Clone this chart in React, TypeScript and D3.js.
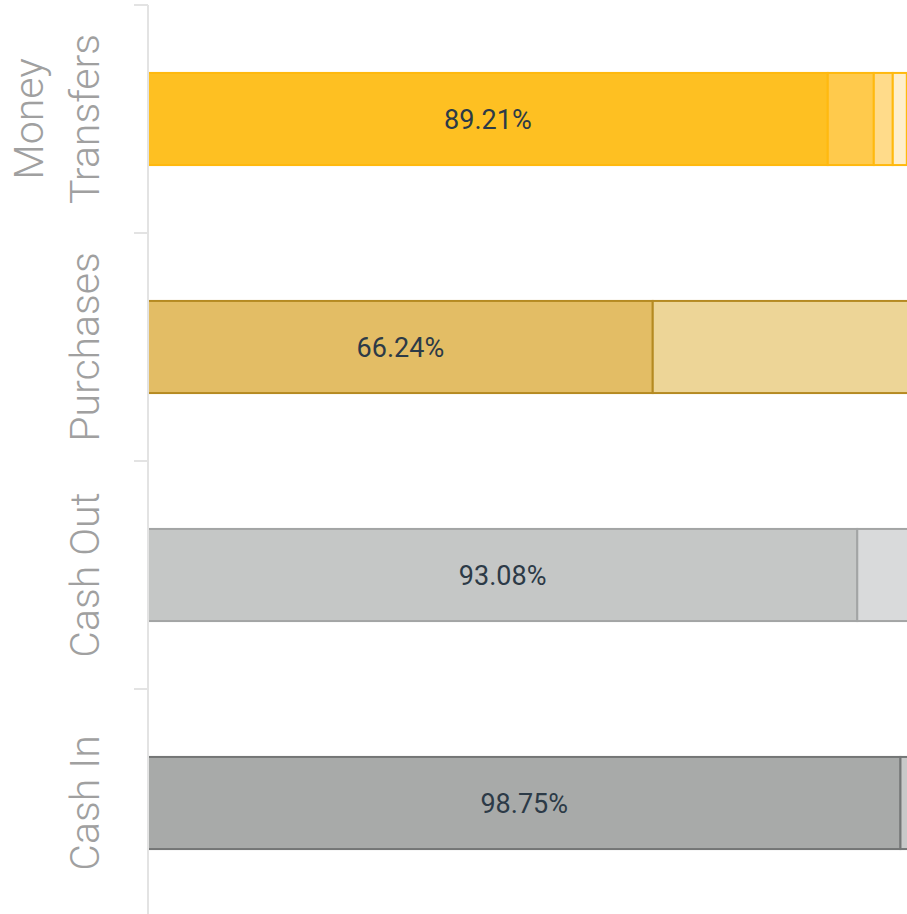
import * as d3 from "d3";

const categories = ["Money Transfers", "Purchases", "Cash Out", "Cash In"];
const categoryLines = [["Money", "Transfers"], ["Purchases"], ["Cash Out"], ["Cash In"]];

// share of each status, in %, left to right
const moneyTransfers = [89.21, 6.04, 2.49, 1.84];
const purchases = [66.24, 33.76];
const cashOut = [93.08, 6.92];
const cashIn = [98.75, 1.25];
const seriesValues = [moneyTransfers, purchases, cashOut, cashIn];

const segmentFills = [
  ["#fec022", "#ffca4c", "#ffdb8a", "#ffefcc"],
  ["#e3bd65", "#edd597"],
  ["#c5c7c6", "#d9dadb"],
  ["#a8aaa9", "#c8c9c9"],
];
const segmentStrokes = ["#ffb90f", "#b58a22", "#a3a5a5", "#747676"];

const width = 907;
const height = 914;
const axisX = 148;

export default function App() {
  const x = d3.scaleLinear().domain([0, 100]).range([axisX, 910]);
  const y = d3.scaleBand<string>().domain(categories).range([5, 917]);
  const bw = y.bandwidth();
  const barH = bw * 0.404;

  return (
    <svg
      width={width}
      height={height}
      style={{ position: "absolute", left: 0, top: 0, display: "block", background: "#fff" }}
    >
      {/* category labels */}
      {categories.map((c, i) => {
        const cy = y(c)! + bw / 2;
        const lines = categoryLines[i];
        return lines.map((ln, j) => (
          <text
            key={c + j}
            transform={`translate(${99 - (lines.length - 1 - j) * 56},${cy}) rotate(-90)`}
            textAnchor="middle"
            fontFamily="Roboto, 'Open Sans', sans-serif"
            fontWeight={300}
            fontSize={41}
            fill="#a0a0a0"
          >
            {ln}
          </text>
        ));
      })}
      {/* bars */}
      {categories.map((c, i) => {
        const vals = seriesValues[i];
        const stacked = d3.cumsum(vals);
        const top = y(c)! + (bw - barH) / 2;
        return (
          <g key={"b" + c}>
            {vals.map((v, k) => {
              const x0 = x(stacked[k] - v);
              const x1 = x(stacked[k]);
              return (
                <rect
                  key={k}
                  x={x0}
                  y={top}
                  width={x1 - x0}
                  height={barH}
                  fill={segmentFills[i][k]}
                  stroke={segmentStrokes[i]}
                  strokeWidth={2}
                />
              );
            })}
            <text
              x={(x(0) + x(vals[0])) / 2}
              y={top + barH / 2}
              dy="0.36em"
              textAnchor="middle"
              fontFamily="Roboto, 'Open Sans', sans-serif"
              fontSize={27}
              fill="#2c3a47"
            >
              {vals[0].toFixed(2)}%
            </text>
          </g>
        );
      })}
      {/* y axis, over the bar bases */}
      <line x1={axisX} x2={axisX} y1={5} y2={height} stroke="#e3e3e3" strokeWidth={2} />
      {categories.map((c) => (
        <line
          key={"t" + c}
          x1={axisX - 14}
          x2={axisX}
          y1={y(c)!}
          y2={y(c)!}
          stroke="#e3e3e3"
          strokeWidth={2}
        />
      ))}
    </svg>
  );
}
